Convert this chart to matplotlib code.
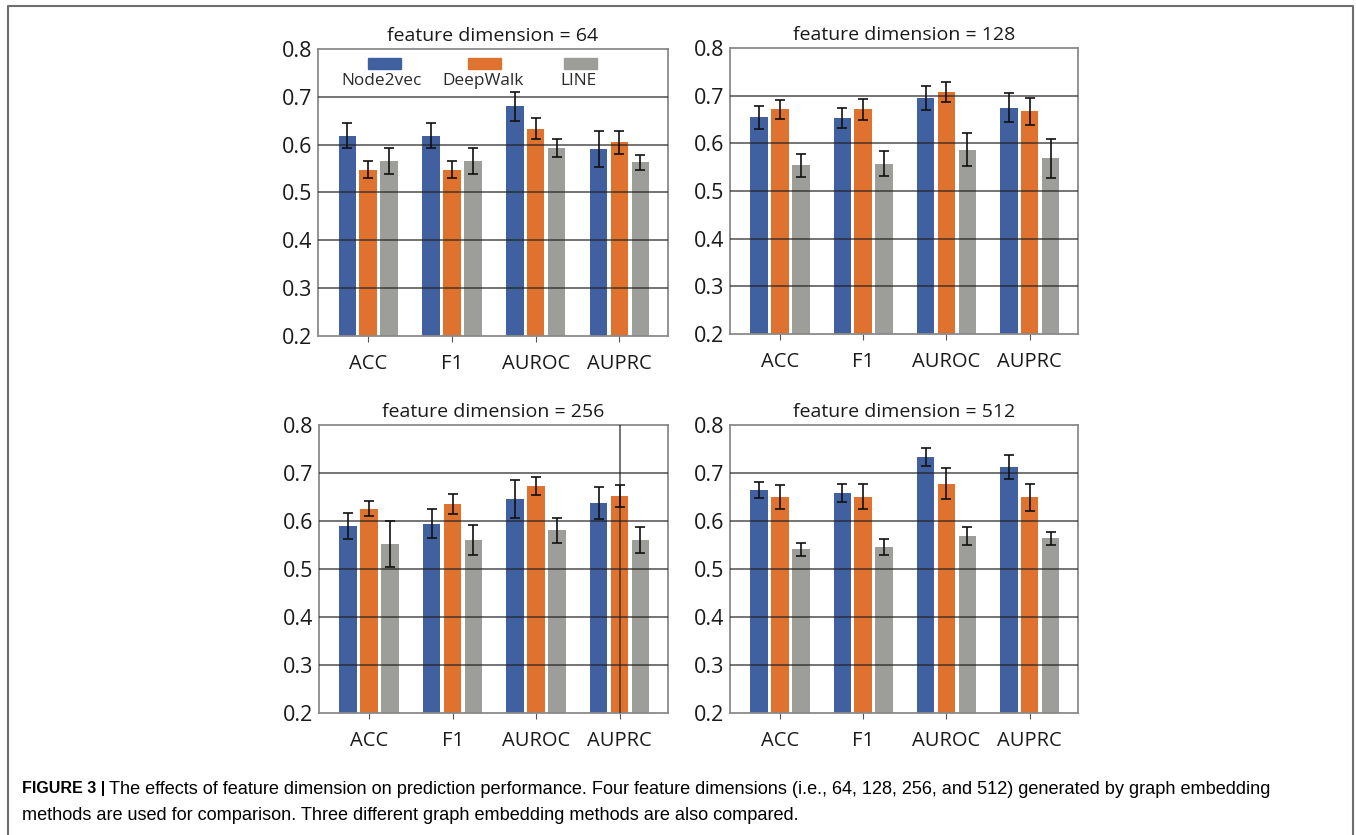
import numpy as np
import matplotlib.pyplot as plt
from matplotlib.patches import Rectangle
from matplotlib.lines import Line2D

metrics = ["ACC", "F1", "AUROC", "AUPRC"]
methods = ["Node2vec", "DeepWalk", "LINE"]
dimensions = [64, 128, 256, 512]

# mean values per method, one list per feature dimension (ACC, F1, AUROC, AUPRC)
node2vec_64 = [0.619, 0.619, 0.680, 0.591]
deepwalk_64 = [0.548, 0.548, 0.633, 0.605]
line_64 = [0.565, 0.565, 0.593, 0.563]
node2vec_64_err = [0.026, 0.026, 0.030, 0.038]
deepwalk_64_err = [0.018, 0.018, 0.022, 0.024]
line_64_err = [0.027, 0.027, 0.019, 0.016]

node2vec_128 = [0.655, 0.654, 0.695, 0.675]
deepwalk_128 = [0.671, 0.671, 0.707, 0.667]
line_128 = [0.554, 0.557, 0.587, 0.569]
node2vec_128_err = [0.024, 0.021, 0.025, 0.030]
deepwalk_128_err = [0.020, 0.022, 0.021, 0.028]
line_128_err = [0.024, 0.026, 0.034, 0.041]

node2vec_256 = [0.589, 0.594, 0.646, 0.638]
deepwalk_256 = [0.626, 0.635, 0.673, 0.652]
line_256 = [0.552, 0.560, 0.581, 0.560]
node2vec_256_err = [0.027, 0.030, 0.040, 0.033]
deepwalk_256_err = [0.015, 0.021, 0.018, 0.023]
line_256_err = [0.048, 0.031, 0.026, 0.027]

node2vec_512 = [0.665, 0.658, 0.733, 0.713]
deepwalk_512 = [0.651, 0.651, 0.678, 0.649]
line_512 = [0.541, 0.546, 0.569, 0.564]
node2vec_512_err = [0.017, 0.019, 0.019, 0.025]
deepwalk_512_err = [0.025, 0.026, 0.032, 0.028]
line_512_err = [0.013, 0.016, 0.018, 0.013]

colors = ["#41609f", "#e0722f", "#9d9e99"]
chart_font = "Open Sans"

W, H = 1356, 835

#axes boxes in pixels: left, top, right, bottom
boxes = [(318, 49, 668, 336), (730, 48, 1078, 334),
         (319, 425, 668, 713), (730, 425, 1078, 713)]


def plot_panel(ax, dim, means, errs):
    x = np.arange(len(metrics))
    step = 0.25
    width = 0.21
    for i in range(len(methods)):
        ax.bar(x + (i - 1) * step, np.array(means[i]) - 0.2, width, bottom=0.2,
               color=colors[i], zorder=2,
               yerr=errs[i], error_kw=dict(ecolor="#111111", elinewidth=1.2, capsize=3.5, capthick=1.2, zorder=4))
    #gridlines drawn over the bars
    for y in [0.3, 0.4, 0.5, 0.6, 0.7]:
        ax.axhline(y, color="#222222", lw=1.1, alpha=0.8, zorder=3)
    ax.set_xlim(-0.6, 3.58)
    ax.set_ylim(0.2, 0.8)
    ax.set_yticks([0.2, 0.3, 0.4, 0.5, 0.6, 0.7, 0.8])
    ax.set_yticklabels(["0.2", "0.3", "0.4", "0.5", "0.6", "0.7", "0.8"], fontsize=15.5, family=chart_font)
    ax.set_xticks(x)
    ax.set_xticklabels(metrics, fontsize=14.5, family=chart_font)
    ax.tick_params(axis="y", length=0, pad=4, colors="#1a1a1a")
    ax.tick_params(axis="x", length=4, pad=9, color="#555555", colors="#1a1a1a")
    for s in ax.spines.values():
        s.set_color("#8a8a8a")
        s.set_linewidth(1.3)
    ax.set_title(f"feature dimension = {dim}", fontsize=14, family=chart_font, pad=6, color="#1a1a1a")


fig = plt.figure(figsize=(W / 100, H / 100), dpi=100)

data = [
    ([node2vec_64, deepwalk_64, line_64], [node2vec_64_err, deepwalk_64_err, line_64_err]),
    ([node2vec_128, deepwalk_128, line_128], [node2vec_128_err, deepwalk_128_err, line_128_err]),
    ([node2vec_256, deepwalk_256, line_256], [node2vec_256_err, deepwalk_256_err, line_256_err]),
    ([node2vec_512, deepwalk_512, line_512], [node2vec_512_err, deepwalk_512_err, line_512_err]),
]

axes = []
for box, dim, (means, errs) in zip(boxes, dimensions, data):
    l, t, r, b = box
    ax = fig.add_axes([l / W, (H - b) / H, (r - l) / W, (b - t) / H])
    plot_panel(ax, dim, means, errs)
    axes.append(ax)

#stray vertical line at AUPRC in the 256 panel
axes[2].axvline(3, color="#222222", lw=1.1, alpha=0.8, zorder=3)

#legend in first panel: patch above, label below
ax = axes[0]
patch_x = [0.191, 0.477, 0.751]
label_x = [0.183, 0.471, 0.743]
for i, name in enumerate(methods):
    ax.add_patch(Rectangle((patch_x[i] - 0.047, 0.932), 0.094, 0.038, transform=ax.transAxes,
                           color=colors[i], zorder=5, clip_on=False))
    ax.text(label_x[i], 0.889, name, transform=ax.transAxes, ha="center", va="center",
            fontsize=12.4, family=chart_font, color="#2a2a2a")

#outer frame
fx = [8 / W, 8 / W, 1353 / W, 1353 / W]
fy = [0, (H - 6) / H, (H - 6) / H, 0]
fig.add_artist(Line2D(fx, fy, transform=fig.transFigure, color="#6e6e6e", lw=1.5))

#caption: bold label, body text placed right after it
cap_font = "Liberation Sans"
bold = fig.text(22 / W, (H - 789) / H, "FIGURE 3 |", fontsize=11.5, family=cap_font, weight="bold", va="center")
fig.canvas.draw()
bold_end = bold.get_window_extent(fig.canvas.get_renderer()).x1
fig.text((bold_end + 4) / W, (H - 789) / H,
         "The effects of feature dimension on prediction performance. Four feature dimensions (i.e., 64, 128, 256, and 512) generated by graph embedding",
         fontsize=13.1, family=cap_font, va="center")
fig.text(22 / W, (H - 815) / H,
         "methods are used for comparison. Three different graph embedding methods are also compared.",
         fontsize=13.1, family=cap_font, va="center")

fig.savefig("out.png", dpi=100)
